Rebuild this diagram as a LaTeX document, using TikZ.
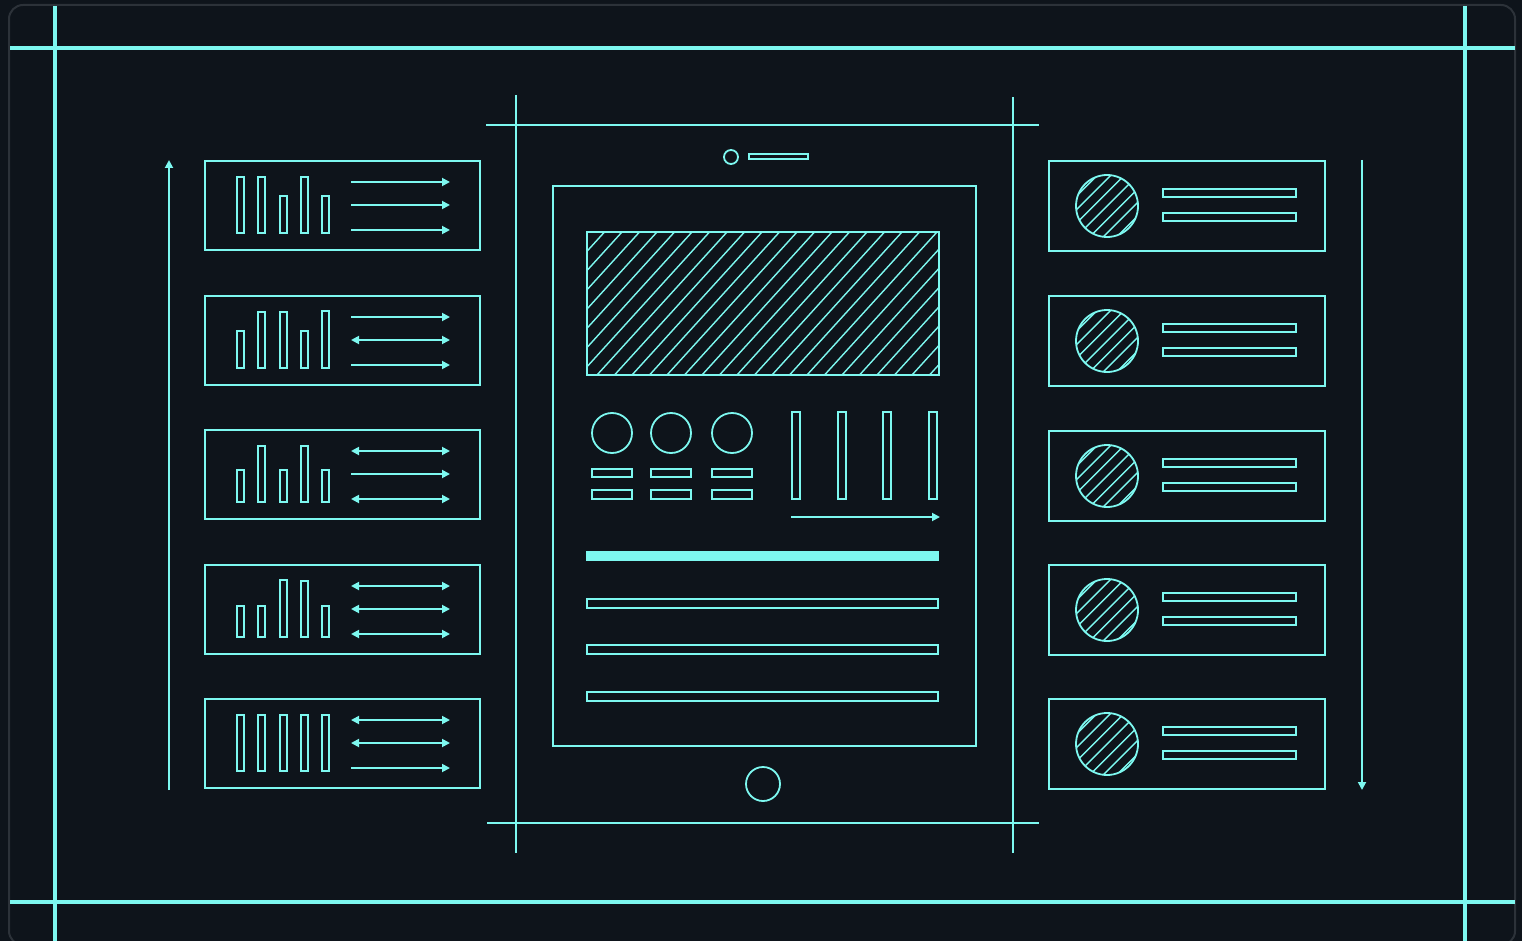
\documentclass[tikz,border=0pt]{standalone}
\usepackage{tikz}
\usetikzlibrary{arrows.meta}
\definecolor{bgdark}{HTML}{0E141B}
\definecolor{frameedge}{HTML}{2C3239}
\definecolor{neon}{HTML}{7DF8F0}

\begin{document}
\begin{tikzpicture}[x=1pt,y=-1pt,
  guide/.style={neon,line width=3.5pt},
  crop/.style={neon,line width=2.2pt},
  outline/.style={draw=neon,line width=1.8pt},
  hatch/.style={neon,line width=1.4pt},
  flow/.style={neon,line width=1.8pt,-{Triangle[length=8pt,width=8pt]}},
  twoway/.style={neon,line width=1.8pt,{Triangle[length=8pt,width=8pt]}-{Triangle[length=8pt,width=8pt]}}]
\fill[bgdark] (0,0) rectangle (1522,941);
\useasboundingbox (0,0) rectangle (1522,941);
\draw[frameedge,line width=2pt,rounded corners=14pt] (9,5) rectangle (1515,945);
% guide lines
\draw[guide] (10,48) -- (1515,48);
\draw[guide] (10,902) -- (1515,902);
\draw[guide] (55,6) -- (55,941);
\draw[guide] (1465,6) -- (1465,941);
% tablet
\draw[crop] (516,95) -- (516,853);
\draw[crop] (1013,97) -- (1013,853);
\draw[crop] (486,125) -- (1039,125);
\draw[crop] (487,823) -- (1039,823);
\draw[outline] (731,157) circle[radius=7pt];
\draw[outline] (749,154) rectangle (808,159);
\draw[outline] (553,186) rectangle (976,746);
\draw[outline] (763,784) circle[radius=17pt];
\begin{scope}
  \clip (587,232) rectangle (939,375);
  \foreach \k in {0,...,28}
    \draw[hatch] ({457+\k*17.5},375) -- ++(130,-143);
\end{scope}
\draw[outline] (587,232) rectangle (939,375);
\foreach \cx in {612,671,732} {
  \draw[outline] (\cx,433) circle[radius=20pt];
  \draw[outline] (\cx-20,469) rectangle (\cx+20,477);
  \draw[outline] (\cx-20,490) rectangle (\cx+20,499);
}
\foreach \bx in {792,838,883,929}
  \draw[outline] (\bx,412) rectangle (\bx+8,499);
\draw[flow] (791,517) -- (940,517);
\fill[neon] (586,551) rectangle (939,561);
\foreach \ly in {599,645,692}
  \draw[outline] (587,\ly) rectangle (938,\ly+9);
% left panels
\draw[flow] (169,790) -- (169,160);
\foreach \py/\ha/\hb/\hc/\hd/\he/\ra/\rb/\rc in {
    161/56/56/37/56/37/flow/flow/flow,
    296/37/56/56/37/57/flow/twoway/flow,
    430/32/56/32/56/32/twoway/flow/twoway,
    565/31/31/57/56/31/twoway/twoway/twoway,
    699/56/56/56/56/56/twoway/twoway/flow} {
  \draw[outline] (205,\py) rectangle (480,\py+89);
  \foreach \h [count=\i from 0] in {\ha,\hb,\hc,\hd,\he}
    \draw[outline] ({237+21.3*\i},\py+72-\h) rectangle ({244+21.3*\i},\py+72);
  \draw[\ra] (351,\py+21) -- (450,\py+21);
  \draw[\rb] (351,\py+44) -- (450,\py+44);
  \draw[\rc] (351,\py+69) -- (450,\py+69);
}
% right panels
\draw[flow] (1362,160) -- (1362,790);
\foreach \py in {161,296,431,565,699} {
  \draw[outline] (1049,\py) rectangle (1325,\py+90);
  \begin{scope}
    \clip (1107,\py+45) circle[radius=31pt];
    \foreach \k in {-5,...,5}
      \draw[hatch] ({1067+\k*13.5},\py+85) -- ++(80,-80);
  \end{scope}
  \draw[outline] (1107,\py+45) circle[radius=31pt];
  \draw[outline] (1163,\py+28) rectangle (1296,\py+36);
  \draw[outline] (1163,\py+52) rectangle (1296,\py+60);
}
\end{tikzpicture}
\end{document}
